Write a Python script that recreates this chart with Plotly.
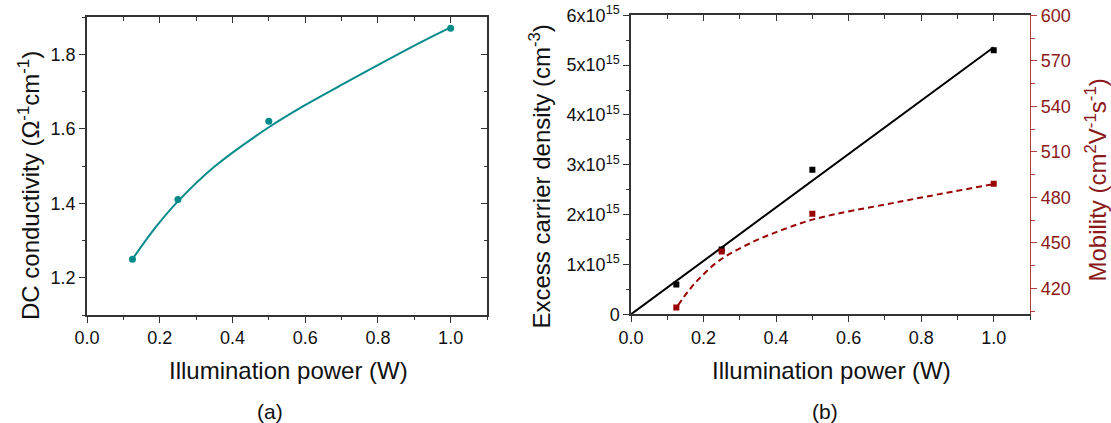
import plotly.graph_objects as go

# ---------------- data ----------------
power_a = [0.125, 0.25, 0.5, 1.0]
dc_cond = [1.25, 1.41, 1.62, 1.87]
fit_a_x = [0.125, 0.19, 0.25, 0.35, 0.5, 0.59, 0.71, 0.916, 1.0]
fit_a_y = [1.25, 1.337, 1.405, 1.498, 1.604, 1.658, 1.723, 1.831, 1.872]

power_b = [0.125, 0.25, 0.5, 1.0]
density = [0.6e15, 1.3e15, 2.9e15, 5.3e15]
mobility = [407.5, 444.3, 469.3, 489.0]
fit_dens_x = [0.0, 1.0]
fit_dens_y = [0.0, 5.36e15]
fit_mob_x = [0.13, 0.157, 0.19, 0.245, 0.336, 0.428, 0.51, 0.739, 1.0]
fit_mob_y = [409.0, 418.0, 427.0, 438.7, 450.7, 459.6, 466.0, 477.1, 488.8]

dens_tickvals = [0, 1e15, 2e15, 3e15, 4e15, 5e15, 6e15]
dens_ticktext = ["0", "1x10<sup>15</sup>", "2x10<sup>15</sup>", "3x10<sup>15</sup>",
                 "4x10<sup>15</sup>", "5x10<sup>15</sup>", "6x10<sup>15</sup>"]

# ---------------- style ----------------
TEAL = "#008B8B"
DRED = "#990000"
AXC = "#333333"
RAXC = "#B04040"
FONT = "Liberation Sans, Arial, sans-serif"
W, H = 1111, 423

def px_x(p):
    return p / W

def px_y(p):
    return 1 - p / H

fig = go.Figure()

# panel (a)
fig.add_trace(go.Scatter(x=fit_a_x, y=fit_a_y, mode="lines", line=dict(color=TEAL, width=2, shape="spline"),
                         xaxis="x", yaxis="y", showlegend=False, hoverinfo="skip"))
fig.add_trace(go.Scatter(x=power_a, y=dc_cond, mode="markers", marker=dict(color=TEAL, size=7, symbol="circle"),
                         xaxis="x", yaxis="y", showlegend=False))
# panel (b)
fig.add_trace(go.Scatter(x=fit_dens_x, y=fit_dens_y, mode="lines", line=dict(color="black", width=2),
                         xaxis="x2", yaxis="y2", showlegend=False, hoverinfo="skip"))
fig.add_trace(go.Scatter(x=power_b, y=density, mode="markers", marker=dict(color="black", size=6, symbol="square"),
                         xaxis="x2", yaxis="y2", showlegend=False))
fig.add_trace(go.Scatter(x=fit_mob_x, y=fit_mob_y, mode="lines",
                         line=dict(color=DRED, width=2, dash="6px,4px", shape="spline"),
                         xaxis="x2", yaxis="y3", showlegend=False, hoverinfo="skip"))
fig.add_trace(go.Scatter(x=power_b, y=mobility, mode="markers", marker=dict(color=DRED, size=6, symbol="square"),
                         xaxis="x2", yaxis="y3", showlegend=False))
# dummy traces binding the tick-only mirror axes
for xa, ya in [("x3", "y"), ("x", "y4"), ("x4", "y2")]:
    fig.add_trace(go.Scatter(x=[None], y=[None], xaxis=xa, yaxis=ya, showlegend=False, hoverinfo="skip"))

tickfont = dict(family=FONT, size=18, color="#111111")
dom_ax = [px_x(87), px_x(487)]
dom_ay = [px_y(315), px_y(17)]
dom_bx = [px_x(631), px_x(1030)]
dom_by = [px_y(314.3), px_y(15.3)]

common_x = dict(range=[0, 1.1], dtick=0.2, tick0=0, tickformat=".1f", ticks="outside", ticklen=6,
                tickwidth=1.3, tickcolor=AXC, showline=True, linecolor=AXC, linewidth=1.5,
                showgrid=False, zeroline=False, tickfont=tickfont, mirror=True, automargin=False,
                minor=dict(dtick=0.1, ticklen=3.5, tickcolor=AXC, tickwidth=1.2, ticks="outside"))

top_x = dict(range=[0, 1.1], dtick=0.2, tick0=0, ticks="inside", ticklen=6, tickwidth=1.3, tickcolor=AXC,
             showticklabels=False, showline=False, showgrid=False, zeroline=False, side="top", automargin=False,
             minor=dict(dtick=0.1, ticklen=3.5, tickcolor=AXC, tickwidth=1.2, ticks="inside"))

fig.update_layout(
    width=W, height=H, margin=dict(l=0, r=0, t=0, b=0, autoexpand=False),
    paper_bgcolor="white", plot_bgcolor="white",
    xaxis=dict(domain=dom_ax, anchor="y", **common_x),
    yaxis=dict(domain=dom_ay, anchor="x", range=[1.1, 1.9], dtick=0.2, tick0=0, tickformat=".1f",
               ticks="outside", ticklen=6, tickwidth=1.3, tickcolor=AXC, showline=True, linecolor=AXC,
               linewidth=1.5, showgrid=False, zeroline=False, tickfont=tickfont, mirror=True, automargin=False,
               minor=dict(dtick=0.1, ticklen=3.5, tickcolor=AXC, tickwidth=1.2, ticks="outside")),
    xaxis3=dict(overlaying="x", anchor="y", **top_x),
    yaxis4=dict(overlaying="y", anchor="x", side="right", range=[1.1, 1.9], dtick=0.2, tick0=0,
                ticks="inside", ticklen=6, tickwidth=1.3, tickcolor=AXC, showticklabels=False,
                showline=False, showgrid=False, zeroline=False, automargin=False,
                minor=dict(dtick=0.1, ticklen=3.5, tickcolor=AXC, tickwidth=1.2, ticks="inside")),
    xaxis2=dict(domain=dom_bx, anchor="y2", **common_x),
    xaxis4=dict(overlaying="x2", anchor="y2", **top_x),
    yaxis2=dict(domain=dom_by, anchor="x2", range=[0, 6e15], tickmode="array", tickvals=dens_tickvals,
                ticktext=dens_ticktext, ticks="outside", ticklen=6, tickwidth=1.3, tickcolor=AXC,
                showline=True, linecolor=AXC, linewidth=1.5, showgrid=False, zeroline=False,
                tickfont=tickfont, automargin=False,
                minor=dict(dtick=5e14, tick0=0, ticklen=3.5, tickcolor=AXC, tickwidth=1.2, ticks="outside")),
    yaxis3=dict(overlaying="y2", anchor="x2", side="right", range=[403, 600], dtick=30, tick0=0,
                ticks="outside", ticklen=6, tickwidth=1.3, tickcolor=RAXC, showline=True, linecolor=RAXC,
                linewidth=1.3, showgrid=False, zeroline=False, automargin=False,
                tickfont=dict(family=FONT, size=18, color="#8B1A1A"),
                minor=dict(dtick=15, tick0=0, ticklen=3.5, tickcolor=RAXC, tickwidth=1.2, ticks="outside")),
)

tf = dict(family=FONT, size=24, color="#111111")
ann = [
    dict(text="DC conductivity (Ω<sup>-1</sup>cm<sup>-1</sup>)", x=px_x(29), y=px_y(186), textangle=-90, font=tf),
    dict(text="Illumination power (W)", x=px_x(288), y=px_y(370), font=tf),
    dict(text="(a)", x=px_x(270), y=px_y(411), font=dict(family=FONT, size=21, color="#111111")),
    dict(text="Excess carrier density (cm<sup>-3</sup>)", x=px_x(539), y=px_y(176.5), textangle=-90, font=tf),
    dict(text="Illumination power (W)", x=px_x(831), y=px_y(370), font=tf),
    dict(text="(b)", x=px_x(825), y=px_y(411), font=dict(family=FONT, size=21, color="#111111")),
    dict(text="Mobility (cm<sup>2</sup>V<sup>-1</sup>s<sup>-1</sup>)", x=px_x(1095), y=px_y(180.5),
         textangle=-90, font=dict(family=FONT, size=24, color="#8B1A1A")),
]
for a in ann:
    a.update(xref="paper", yref="paper", showarrow=False, xanchor="center", yanchor="middle")
fig.update_layout(annotations=ann)

fig.write_html("out.html", config={"displayModeBar": False},
               post_script="document.body.style.margin='0';document.body.style.overflow='hidden';")
